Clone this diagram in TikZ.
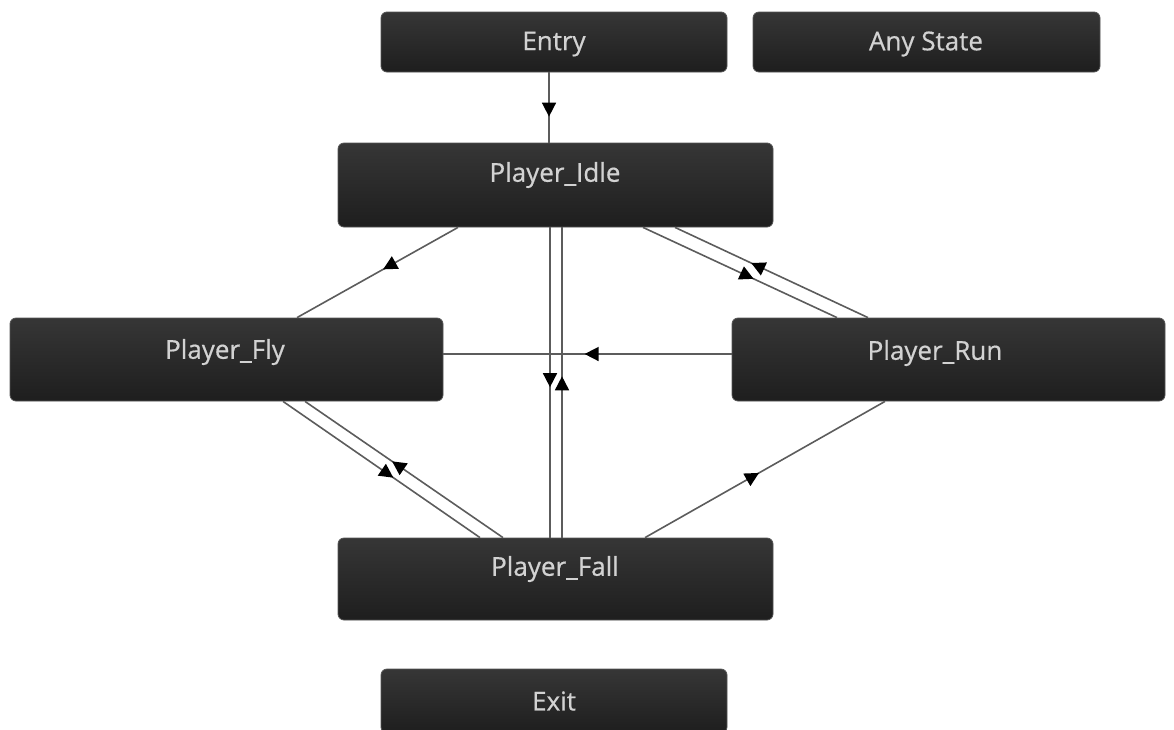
\documentclass[tikz,border=0pt]{standalone}
\usepackage{fontspec}
\setmainfont{Open Sans}
\newfontfamily\lblfont[FakeBold=0.6]{Open Sans}
\usetikzlibrary{arrows.meta,decorations.markings,calc}
\definecolor{boxtop}{HTML}{363636}
\definecolor{boxbot}{HTML}{1E1E1E}
\definecolor{boxedge}{HTML}{555555}
\definecolor{txt}{HTML}{D2D2D2}
\definecolor{wire}{HTML}{5C5C5C}
\tikzset{
  statebox/.style={rounded corners=6pt, draw=boxedge, line width=0.8pt,
    top color=boxtop, bottom color=boxbot, inner sep=0pt},
  lbl/.style={text=txt, font=\lblfont\fontsize{26}{30}\selectfont, inner sep=0pt},
  trans/.style={draw=wire, line width=1.6pt,
    postaction={decorate},
    decoration={markings, mark=at position #1 with {\arrow{Triangle[length=14pt,width=14pt,color=black]}}}},
  trans/.default=0.5,
}
\begin{document}
\begin{tikzpicture}[x=1pt,y=-1pt]
\useasboundingbox (0,0) rectangle (1174,729);
% boxes
\node[statebox, minimum width=346pt, minimum height=60pt] (entry) at (554,42) {};
\node[statebox, minimum width=347pt, minimum height=60pt] (any) at (926.5,42) {};
\node[statebox, minimum width=435pt, minimum height=84pt] (idle) at (555.5,185) {};
\node[statebox, minimum width=433pt, minimum height=83pt] (fly) at (226.5,359.5) {};
\node[statebox, minimum width=433pt, minimum height=83pt] (run) at (948.5,359.5) {};
\node[statebox, minimum width=435pt, minimum height=82pt] (fall) at (555.5,579) {};
\node[statebox, minimum width=346pt, minimum height=64pt] (exit) at (554,701) {};
% labels
\node[lbl] (tentry) at (554,44) {Entry};
\node[lbl] (tany) at (926,44) {Any State};
\node[lbl] (tidle) at (555,175) {Player\_Idle};
\node[lbl] (tfly) at (225,352) {Player\_Fly};
\node[lbl] (trun) at (935,353) {Player\_Run};
\node[lbl] (tfall) at (555,569) {Player\_Fall};
\node[lbl] (texit) at (554,701) {Exit};
% transitions
\draw[trans=0.63] ([xshift=-5pt]entry.south) -- ([xshift=-6.5pt]idle.north);
\draw[trans=0.465] ([xshift=-97.5pt]idle.south) -- ([xshift=70.5pt]fly.north);
\draw[trans=0.57] ([xshift=87.5pt]idle.south) -- ([xshift=-111.5pt]run.north);
\draw[trans=0.605] ([xshift=-80.5pt]run.north) -- ([xshift=119.5pt]idle.south);
\draw[trans=0.51] ([yshift=5.5pt]run.west) -- ([yshift=5.5pt]fly.east);
\draw[trans=0.515] ([xshift=-5.5pt]idle.south) -- ([xshift=-5.5pt]fall.north);
\draw[trans=0.52] ([xshift=6.5pt]fall.north) -- ([xshift=6.5pt]idle.south);
\draw[trans=0.56] ([xshift=56.5pt]fly.south) -- ([xshift=-75.5pt]fall.north);
\draw[trans=0.56] ([xshift=-52.5pt]fall.north) -- ([xshift=78.5pt]fly.south);
\draw[trans=0.475] ([xshift=89.5pt]fall.north) -- ([xshift=-63.5pt]run.south);
\end{tikzpicture}
\end{document}
